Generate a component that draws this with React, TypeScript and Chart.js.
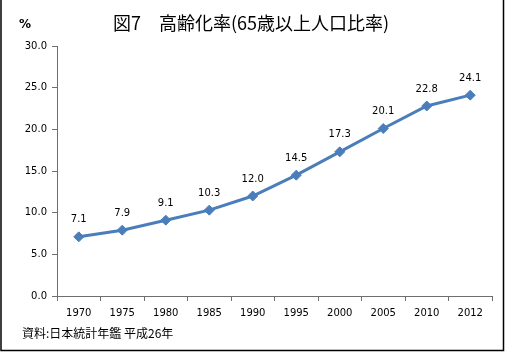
import React, { useEffect, useRef } from "react";
import { Chart, registerables } from "chart.js";

Chart.register(...registerables);

const years = ["1970", "1975", "1980", "1985", "1990", "1995", "2000", "2005", "2010", "2012"];
const agingRate = [7.1, 7.9, 9.1, 10.3, 12.0, 14.5, 17.3, 20.1, 22.8, 24.1];
const titleText = "図7　高齢化率(65歳以上人口比率)";
const unitText = "%";
const sourceText = "資料:日本統計年鑑 平成26年";

const LINE_COLOR = "#4A7EBB";
const AXIS_COLOR = "#6e6e6e";
const TICK_FONT = "'DejaVu Sans', Verdana, sans-serif";
const CJK_FONT = "'Noto Sans CJK JP', sans-serif";

const decorPlugin = {
  id: "decor",
  afterDraw(chart: any) {
    const ctx = chart.ctx;
    const w = chart.width;
    const h = chart.height;
    ctx.save();
    // border
    ctx.strokeStyle = "#000";
    ctx.lineWidth = 1.5;
    ctx.beginPath();
    ctx.moveTo(1, 0);
    ctx.lineTo(1, h - 2.5);
    ctx.lineTo(w - 2.5, h - 2.5);
    ctx.lineTo(w - 2.5, 0);
    ctx.stroke();
    // title
    ctx.fillStyle = "#000";
    ctx.textBaseline = "middle";
    ctx.textAlign = "center";
    ctx.font = `normal 18px ${CJK_FONT}`;
    ctx.fillText(titleText, 251, 23);
    ctx.font = `bold 12px ${TICK_FONT}`;
    ctx.fillText(unitText, 25, 25);
    ctx.textAlign = "left";
    ctx.font = `12px ${CJK_FONT}`;
    ctx.fillText(sourceText, 22, 333);
    // data labels
    const meta = chart.getDatasetMeta(0);
    ctx.textAlign = "center";
    ctx.font = `10px ${TICK_FONT}`;
    meta.data.forEach((pt: any, i: number) => {
      ctx.fillText(agingRate[i].toFixed(1), pt.x, pt.y - 17);
    });
    ctx.restore();
  },
};

export default function App() {
  const ref = useRef<HTMLCanvasElement | null>(null);
  useEffect(() => {
    document.body.style.margin = "0";
    const chart = new Chart(ref.current as HTMLCanvasElement, {
      type: "line",
      data: {
        labels: years,
        datasets: [
          {
            data: agingRate,
            borderColor: LINE_COLOR,
            backgroundColor: LINE_COLOR,
            borderWidth: 3,
            pointStyle: "rectRot",
            pointRadius: 5,
            pointBorderWidth: 1,
            pointBackgroundColor: LINE_COLOR,
            pointBorderColor: LINE_COLOR,
            tension: 0,
          },
        ],
      },
      options: {
        responsive: false,
        animation: false,
        layout: { padding: { top: 46, right: 14, left: 0, bottom: 0 } },
        plugins: {
          legend: { display: false },
          tooltip: { enabled: false },
          title: { display: false },
        },
        scales: {
          x: {
            offset: true,
            grid: {
              offset: true,
              display: true,
              drawOnChartArea: false,
              drawTicks: true,
              tickLength: 5,
              color: AXIS_COLOR,
            },
            border: { color: AXIS_COLOR, width: 1 },
            ticks: {
              color: "#000",
              font: { family: TICK_FONT, size: 10 },
              padding: 6,
              maxRotation: 0,
              autoSkip: false,
            },
            afterFit(scale: any) {
              scale.height = 57;
            },
          },
          y: {
            min: 0,
            max: 30,
            grid: {
              display: true,
              drawOnChartArea: false,
              drawTicks: true,
              tickLength: 5,
              color: AXIS_COLOR,
            },
            border: { color: AXIS_COLOR, width: 1 },
            ticks: {
              stepSize: 5,
              color: "#000",
              font: { family: TICK_FONT, size: 10 },
              padding: 5,
              callback: (v: any) => Number(v).toFixed(1),
            },
            afterFit(scale: any) {
              scale.width = 57;
            },
          },
        },
      },
      plugins: [decorPlugin],
    });
    return () => chart.destroy();
  }, []);
  return (
    <div style={{ width: 506, height: 353, background: "#fff" }}>
      <canvas ref={ref} width={506} height={353} style={{ display: "block" }} />
    </div>
  );
}
